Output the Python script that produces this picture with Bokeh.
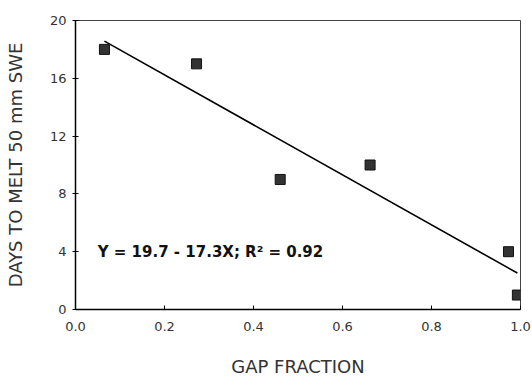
from bokeh.plotting import figure
from bokeh.models import Range1d, FixedTicker, ColumnDataSource, Label
from bokeh.embed import file_html
from bokeh.resources import INLINE

# Data
gap_fraction = [0.065, 0.272, 0.46, 0.662, 0.973, 0.993]
days_to_melt = [18, 17, 9, 10, 4, 1]

# Regression shown on chart: Y = 19.7 - 17.3X
intercept = 19.7
slope = -17.3
fit_x = [min(gap_fraction), max(gap_fraction)]
fit_y = [intercept + slope * x for x in fit_x]

x_ticks = [0.0, 0.2, 0.4, 0.6, 0.8, 1.0]
y_ticks = [0, 4, 8, 12, 16, 20]
equation_text = "Y = 19.7 - 17.3X; R\u00b2 = 0.92"
equation_pos = (0.05, 4.0)

p = figure(width=532, height=379, output_backend="svg", toolbar_location=None,
           x_range=Range1d(0, 1.0), y_range=Range1d(0, 20),
           min_border_left=75, min_border_right=12, min_border_top=20,
           min_border_bottom=69)

p.grid.visible = False
p.outline_line_color = "#444444"
p.outline_line_width = 1
p.background_fill_color = "white"
p.border_fill_color = "white"

font = "DejaVu Sans"
for ax in (p.xaxis[0], p.yaxis[0]):
    ax.axis_line_color = "black"
    ax.axis_line_width = 1.5
    ax.major_tick_line_color = "black"
    ax.minor_tick_line_color = None
    ax.major_label_text_font = font
    ax.major_label_text_font_size = "13px"
    ax.major_label_text_color = "#333333"
    ax.axis_label_text_font = font
    ax.axis_label_text_font_style = "normal"
    ax.axis_label_text_font_size = "18px"
    ax.axis_label_text_color = "#333333"

p.xaxis[0].ticker = FixedTicker(ticks=x_ticks)
p.yaxis[0].ticker = FixedTicker(ticks=y_ticks)
p.xaxis[0].major_label_overrides = {0.0: "0.0", 1.0: "1.0"}
p.xaxis[0].major_tick_in = 4
p.xaxis[0].major_tick_out = 0
p.yaxis[0].major_tick_in = 3
p.yaxis[0].major_tick_out = 3
p.xaxis[0].major_label_standoff = 12
p.yaxis[0].major_label_standoff = 6
p.xaxis[0].axis_label = "GAP FRACTION"
p.yaxis[0].axis_label = "DAYS TO MELT 50 mm SWE"
p.xaxis[0].axis_label_standoff = 22
p.yaxis[0].axis_label_standoff = 21

p.line(fit_x, fit_y, line_color="black", line_width=1.6)
src = ColumnDataSource(dict(x=gap_fraction, y=days_to_melt))
p.scatter("x", "y", source=src, marker="square", size=10,
          fill_color="#333333", line_color="#111111", line_width=1)

p.add_layout(Label(x=equation_pos[0], y=equation_pos[1], text=equation_text,
                   text_font=font, text_font_style="bold", text_font_size="15px",
                   text_baseline="middle", text_align="left", text_color="#111111"))

open("out.html", "w").write(file_html(p, INLINE))
